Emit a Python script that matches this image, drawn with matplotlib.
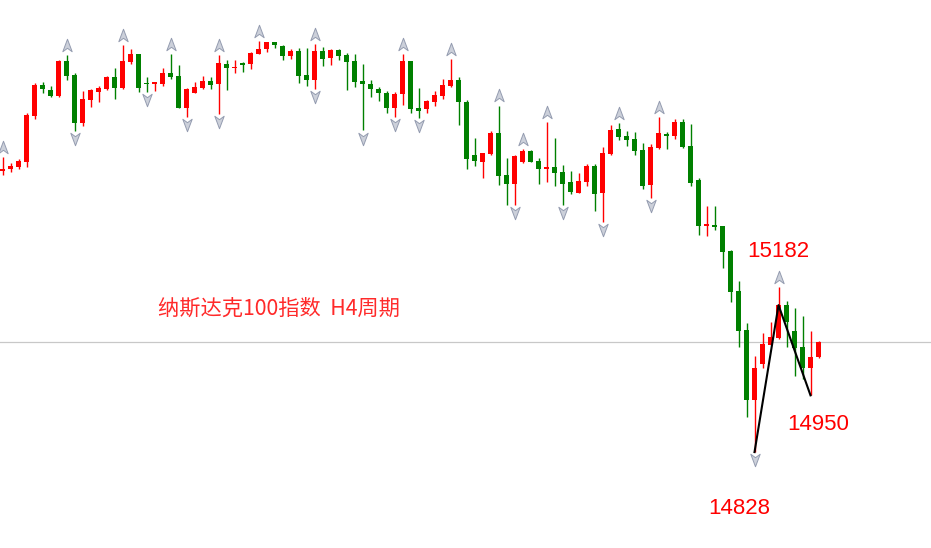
import matplotlib
matplotlib.use('Agg')
import matplotlib.pyplot as plt
from matplotlib.path import Path

plt.rcParams['font.family'] = ['Noto Sans CJK SC', 'DejaVu Sans']
plt.rcParams['axes.unicode_minus'] = False

# 纳斯达克100 H4 K线 (开 高 低 收)
opens = [15433, 15436, 15442, 15452, 15551, 15617, 15607, 15594, 15669, 15639,
         15536, 15585, 15603, 15609, 15634, 15611, 15667, 15684, 15621, 15619,
         15619, 15644, 15637, 15568, 15599, 15611, 15626, 15619, 15662, 15653,
         15665, 15662, 15683, 15694, 15709, 15701, 15680, 15690, 15639, 15628,
         15690, 15676, 15692, 15682, 15669, 15626, 15619, 15609, 15601, 15568,
         15597, 15669, 15568, 15566, 15581, 15594, 15616, 15628, 15581, 15467,
         15452, 15469, 15515, 15424, 15404, 15452, 15475, 15454, 15437, 15440,
         15430, 15408, 15386, 15409, 15443, 15386, 15469, 15523, 15508, 15501,
         15478, 15402, 15482, 15512, 15508, 15537, 15486, 15412, 15314, 15316,
         15314, 15260, 15174, 15090, 14940, 15017, 15058, 15074, 15144, 15088,
         15055, 15009, 15032]
highs = [15463, 15450, 15458, 15558, 15621, 15624, 15615, 15671, 15682, 15642,
         15604, 15608, 15615, 15637, 15654, 15703, 15695, 15684, 15635, 15624,
         15654, 15684, 15660, 15611, 15624, 15637, 15634, 15682, 15672, 15672,
         15667, 15689, 15712, 15709, 15709, 15703, 15694, 15696, 15696, 15705,
         15699, 15695, 15695, 15687, 15684, 15662, 15628, 15614, 15604, 15603,
         15684, 15669, 15611, 15585, 15604, 15630, 15673, 15635, 15585, 15504,
         15472, 15518, 15573, 15461, 15467, 15479, 15478, 15460, 15538, 15504,
         15445, 15433, 15427, 15447, 15447, 15483, 15531, 15536, 15518, 15516,
         15492, 15490, 15549, 15517, 15544, 15544, 15533, 15417, 15357, 15357,
         15314, 15263, 15196, 15106, 15035, 15083, 15107, 15182, 15153, 15138,
         15121, 15088, 15067]
lows = [15424, 15431, 15436, 15442, 15544, 15599, 15592, 15592, 15628, 15519,
        15530, 15571, 15581, 15607, 15587, 15609, 15662, 15603, 15602, 15605,
        15616, 15630, 15568, 15549, 15599, 15609, 15609, 15555, 15606, 15644,
        15645, 15652, 15683, 15689, 15696, 15671, 15673, 15622, 15616, 15609,
        15659, 15660, 15671, 15606, 15614, 15520, 15592, 15583, 15556, 15549,
        15574, 15558, 15547, 15556, 15573, 15587, 15614, 15531, 15437, 15443,
        15417, 15467, 15402, 15359, 15359, 15449, 15452, 15404, 15409, 15401,
        15359, 15383, 15386, 15401, 15347, 15323, 15467, 15499, 15487, 15467,
        15393, 15375, 15479, 15480, 15501, 15481, 15400, 15295, 15293, 15306,
        15223, 15151, 15055, 14904, 14828, 15008, 15058, 15071, 15055, 14992,
        14985, 14950, 15030]
closes = [15437, 15443, 15454, 15553, 15617, 15609, 15594, 15669, 15637, 15536,
          15587, 15607, 15611, 15635, 15611, 15669, 15684, 15611, 15619, 15623,
          15643, 15635, 15568, 15608, 15612, 15626, 15617, 15665, 15654, 15655,
          15660, 15687, 15695, 15709, 15703, 15680, 15690, 15637, 15628, 15690,
          15674, 15692, 15680, 15667, 15624, 15619, 15609, 15599, 15568, 15598,
          15669, 15566, 15562, 15583, 15596, 15617, 15628, 15580, 15458, 15454,
          15472, 15515, 15422, 15404, 15465, 15475, 15452, 15437, 15440, 15429,
          15404, 15388, 15411, 15443, 15383, 15472, 15520, 15506, 15499, 15475,
          15400, 15483, 15515, 15508, 15537, 15483, 15407, 15314, 15318, 15313,
          15259, 15173, 15089, 14940, 15008, 15060, 15076, 15144, 15107, 15052,
          15008, 15033, 15064]

# 分形标记 (K线序号)
fractal_up = [0, 8, 15, 21, 27, 32, 39, 50, 56, 62, 65, 68, 77, 82, 97]
fractal_down = [9, 18, 23, 27, 39, 45, 49, 52, 64, 70, 75, 81, 94]

# 波段连线
wave_idx = [94, 97, 101]
wave_price = [14828, 15144, 14950]

title = '纳斯达克100指数  H4周期'
high_label, low_label, last_low_label = '15182', '14828', '14950'

UP_ARROW = Path([(0, 1), (0.75, -1), (0, -0.45), (-0.75, -1), (0, 1)],
                [Path.MOVETO, Path.LINETO, Path.LINETO, Path.LINETO, Path.CLOSEPOLY])
DOWN_ARROW = Path([(0, -1), (0.75, 1), (0, 0.45), (-0.75, 1), (0, -1)],
                  [Path.MOVETO, Path.LINETO, Path.LINETO, Path.LINETO, Path.CLOSEPOLY])


def plot_candles(ax):
    n = len(opens)
    x = list(range(n))
    colors = ['#ff0000' if closes[i] >= opens[i] else '#008000' for i in x]
    ax.vlines(x, lows, highs, colors=colors, linewidth=1.0)
    bottoms = [min(opens[i], closes[i]) for i in x]
    heights = [max(abs(closes[i] - opens[i]), 2.2) for i in x]
    ax.bar(x, heights, bottom=bottoms, width=0.62, color=colors, linewidth=0)


def plot_fractals(ax):
    ax.plot(fractal_up, [highs[i] + 22 for i in fractal_up], linestyle='none',
            marker=UP_ARROW, markersize=9, markerfacecolor='#ccd0da',
            markeredgecolor='#949cb0', markeredgewidth=0.7)
    ax.plot(fractal_down, [lows[i] - 18 for i in fractal_down], linestyle='none',
            marker=DOWN_ARROW, markersize=9, markerfacecolor='#ccd0da',
            markeredgecolor='#949cb0', markeredgewidth=0.7)


def plot_chart():
    fig = plt.figure(figsize=(9.31, 5.48), dpi=100)
    ax = fig.add_axes([0, 0, 1, 1])
    ax.axis('off')

    # 现价线
    ax.axhline(closes[-1], color='#c8c8c8', linewidth=0.9, zorder=0)

    plot_candles(ax)
    plot_fractals(ax)

    ax.plot(wave_idx, wave_price, color='black', linewidth=1.5, zorder=5)

    num_font = dict(family=['Liberation Sans', 'DejaVu Sans'], fontsize=16, color='#ff0000',
                    ha='center', va='center', textcoords='offset pixels')
    ax.annotate(high_label, xy=(97, 15182), xytext=(0, 36), **num_font)
    ax.annotate(last_low_label, xy=(101, 14950), xytext=(8, -29), **num_font)
    ax.annotate(low_label, xy=(94, 14828), xytext=(-15, -56), **num_font)

    ax.text(0.170, 0.437, title, transform=ax.transAxes, fontsize=15.3,
            color='#ff2a2a', ha='left', va='center')

    ax.set_xlim(-0.3125, 116.06)
    ax.set_ylim(15800 - 2.15 * 548, 15800)

    fig.savefig('out.png', dpi=100)


if __name__ == '__main__':
    plot_chart()
